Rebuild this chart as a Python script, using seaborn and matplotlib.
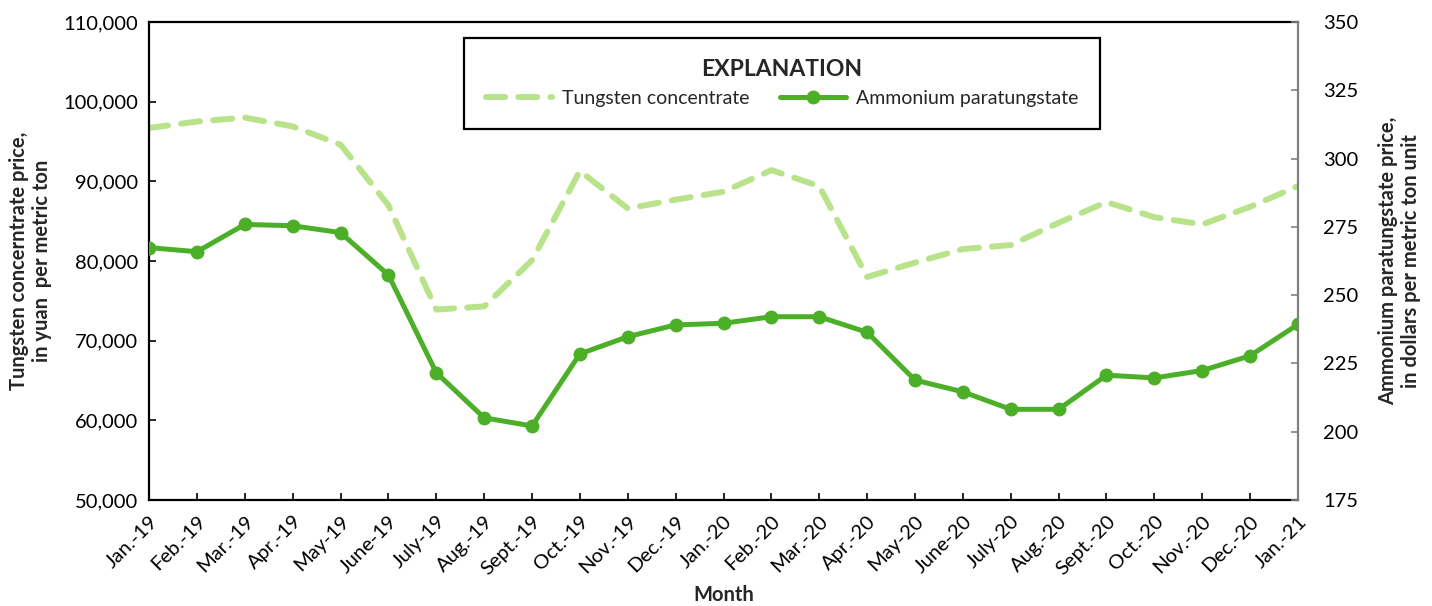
import numpy as np
import pandas as pd
import matplotlib
matplotlib.use("Agg")
import matplotlib.pyplot as plt
import seaborn as sns

months = [
    "Jan.-19", "Feb.-19", "Mar.-19", "Apr.-19", "May-19", "June-19",
    "July-19", "Aug.-19", "Sept.-19", "Oct.-19", "Nov.-19", "Dec.-19",
    "Jan.-20", "Feb.-20", "Mar.-20", "Apr.-20", "May-20", "June-20",
    "July-20", "Aug.-20", "Sept.-20", "Oct.-20", "Nov.-20", "Dec.-20",
    "Jan.-21",
]
# yuan per metric ton (left axis)
tungsten_conc = [
    96700, 97500, 98000, 96900, 94600, 87000,
    73900, 74300, 80100, 91300, 86600, 87700,
    88700, 91400, 89400, 78000, 79800, 81500,
    82000, 84800, 87400, 85500, 84600, 86800,
    89400,
]
# dollars per metric ton unit (right axis)
apt = [
    267.4, 265.9, 275.9, 275.4, 272.9, 257.4,
    221.6, 205.1, 202.1, 228.5, 234.8, 239.1,
    239.7, 242.1, 242.1, 236.4, 218.9, 214.6,
    208.2, 208.2, 220.7, 219.7, 222.4, 227.8,
    239.3,
]
left_ticks = [50000, 60000, 70000, 80000, 90000, 100000, 110000]
right_ticks = [175, 200, 225, 250, 275, 300, 325, 350]

df = pd.DataFrame({
    "idx": np.arange(len(months)),
    "month": months,
    "tungsten": tungsten_conc,
    "apt": apt,
})

sns.set_style("ticks")
plt.rcParams["font.family"] = ["Lato", "DejaVu Sans"]

light_green = "#b9e38b"
dark_green = "#4caf28"

fig = plt.figure(figsize=(14.32, 6.06), dpi=100)
ax = fig.add_axes([0.1041, 0.1749, 0.8023, 0.7888])
ax2 = ax.twinx()

sns.lineplot(data=df, x="idx", y="tungsten", ax=ax, color=light_green,
             linewidth=4.3, label="Tungsten concentrate", legend=False)
ax.lines[0].set_dashes([3.2, 2.2])
ax.lines[0].set_dash_capstyle("round")

sns.lineplot(data=df, x="idx", y="apt", ax=ax2, color=dark_green,
             linewidth=3.6, marker="o", markersize=10, markeredgewidth=0,
             label="Ammonium paratungstate", legend=False)

ax.set_xlim(0, len(months) - 1)
ax.set_ylim(50000, 110000)
ax2.set_ylim(175, 350)
ax.set_yticks(left_ticks)
ax.set_yticklabels([f"{v:,}" for v in left_ticks])
ax2.set_yticks(right_ticks)
ax.set_xticks(df["idx"])
ax.set_xticklabels(months, rotation=45, ha="right", rotation_mode="anchor")

ax.tick_params(axis="both", direction="in", labelsize=14.5, length=5, width=1.2,
               colors="black")
ax.tick_params(axis="x", pad=9)
ax.tick_params(axis="y", pad=8)
ax2.tick_params(axis="y", direction="in", labelsize=14.5, length=5, width=1.2,
                color="#808080", labelcolor="black", pad=18)

for s in ["left", "bottom", "top"]:
    ax.spines[s].set_color("black")
    ax.spines[s].set_linewidth(1.6)
ax.spines["right"].set_visible(False)
for s in ["left", "bottom", "top"]:
    ax2.spines[s].set_visible(False)
ax2.spines["right"].set_color("#808080")
ax2.spines["right"].set_linewidth(1.6)

ax.set_xlabel("Month", fontsize=14.5, fontweight="bold", labelpad=5)
ax.set_ylabel("Tungsten concerntrate price,\nin yuan  per metric ton",
              fontsize=14.5, fontweight="bold", labelpad=8)
ax2.set_ylabel("Ammonium paratungstate price,\nin dollars per metric ton unit",
               fontsize=14.5, fontweight="bold", labelpad=14)

handles = ax.get_lines()[:1] + ax2.get_lines()[:1]
leg = ax2.legend(handles, [h.get_label() for h in handles],
                 title="EXPLANATION", ncol=2, loc="upper center",
                 bbox_to_anchor=(0.551, 0.9665), fontsize=14,
                 title_fontproperties={"weight": "bold", "size": 16.5},
                 frameon=True, fancybox=False, edgecolor="black",
                 handlelength=3.4, handletextpad=0.5, columnspacing=1.6,
                 borderpad=1.1, borderaxespad=0)
leg.get_frame().set_linewidth(1.6)
leg.get_frame().set_alpha(1)

fig.savefig("out.png", dpi=100)
